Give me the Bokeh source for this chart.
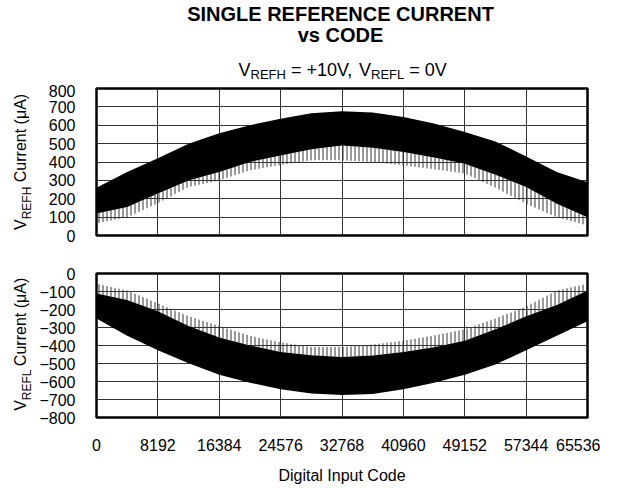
import math
from bokeh.plotting import figure
from bokeh.layouts import column, row
from bokeh.models import Range1d, FixedTicker
from bokeh.core.properties import value
from bokeh.embed import file_html
from bokeh.resources import INLINE

# ---- data ----
codes = [0, 4096, 8192, 12288, 16384, 20480, 24576, 28672, 32768,
         36864, 40960, 45056, 49152, 53248, 57344, 61440, 65536]

refh_peak = [260, 345, 420, 500, 556, 600, 636, 665, 676, 670, 645, 609, 563, 512, 430, 345, 290]
refh_band_low = [120, 155, 228, 300, 345, 400, 436, 470, 490, 478, 455, 425, 391, 330, 264, 173, 100]
refh_spike_low = [65, 100, 175, 264, 300, 355, 383, 410, 409, 400, 382, 360, 337, 260, 173, 100, 55]

refl_spike_high = [-57, -94, -165, -238, -292, -346, -382, -409, -409, -395, -373, -345, -310, -250, -184, -94, -57]
refl_band_high = [-111, -147, -210, -292, -355, -400, -436, -454, -464, -455, -436, -410, -373, -310, -238, -175, -94]
refl_peak = [-250, -346, -427, -499, -562, -607, -643, -666, -675, -670, -643, -607, -562, -505, -427, -346, -265]

x_ticks = [0, 8192, 16384, 24576, 32768, 40960, 49152, 57344, 65536]
x_tick_labels = ["0", "8192", "16384", "24576", "32768", "40960", "49152", "57344", "65536"]
top_ticks = [0, 100, 200, 300, 400, 500, 600, 700, 800]
top_tick_labels = ["0", "100", "200", "300", "400", "500", "600", "700", "800"]
bot_ticks = [0, -100, -200, -300, -400, -500, -600, -700, -800]
bot_tick_labels = ["0", "\u2212100", "\u2212200", "\u2212300", "\u2212400", "\u2212500", "\u2212600", "\u2212700", "\u2212800"]

title_line1 = "SINGLE REFERENCE CURRENT"
title_line2 = "vs CODE"
x_title = "Digital Input Code"

FONT = "Liberation Sans"


def blank(width, height, x0, x1, ytop, ybot):
    f = figure(width=width, height=height, output_backend="svg", toolbar_location=None,
               x_axis_location=None, y_axis_location=None,
               x_range=Range1d(x0, x1), y_range=Range1d(-ybot, -ytop),
               min_border=0, min_border_left=0, min_border_right=0,
               min_border_top=0, min_border_bottom=0)
    f.grid.visible = False
    f.outline_line_color = None
    f.background_fill_color = "white"
    f.border_fill_color = "white"
    return f


def put_text(f, x, y, txt, size, style="normal", align="left", baseline="alphabetic", angle=0.0):
    f.text(x=[x], y=[-y], text=[txt], angle=angle, text_align=align, text_baseline=baseline,
           text_font=value(FONT), text_font_size=value(f"{size}px"),
           text_font_style=style, text_color="black")


def style(p, yticks, ylabels):
    p.outline_line_color = "black"
    p.outline_line_width = 2.5
    p.background_fill_color = "white"
    p.border_fill_color = "white"
    for g in p.xgrid:
        g.ticker = FixedTicker(ticks=x_ticks)
        g.grid_line_color = "#333333"
        g.grid_line_width = 1
    for g in p.ygrid:
        g.ticker = FixedTicker(ticks=yticks)
        g.grid_line_color = "#333333"
        g.grid_line_width = 1
    ya = p.yaxis[0]
    ya.ticker = FixedTicker(ticks=yticks)
    ya.major_label_overrides = {t: l for t, l in zip(yticks, ylabels)}
    ya.axis_line_color = None
    ya.major_tick_line_color = None
    ya.minor_tick_line_color = None
    ya.major_label_standoff = 15
    ya.major_label_text_font = FONT
    ya.major_label_text_font_size = "16px"
    ya.major_label_text_color = "black"


# ---- header (titles): screen px coordinates ----
header = blank(600, 84, 0, 600, 0, 84)
put_text(header, 340, 13.5, title_line1, 20, style="bold", align="center", baseline="middle")
put_text(header, 340, 34, title_line2, 20, style="bold", align="center", baseline="middle")
for txt, sx, fs, by in [("V", 238, 18, 69), ("REFH", 250, 13, 74), ("= +10V,", 290.4, 18, 69),
                        ("V", 358.5, 18, 69), ("REFL", 370.5, 13, 74), ("= 0V", 408.7, 18, 69)]:
    put_text(header, sx, by, txt, fs)

# ---- top plot row (frame y 88..235, aligned across the row) ----
left1 = blank(36, 166, 0, 36, 88, 235)
for txt, fs, bx, sy in [("V", 16, 20, 229.5), ("REFH", 12, 26, 218.8), ("Current (\u03bcA)", 16, 20, 181.7)]:
    put_text(left1, bx, sy, txt, fs, angle=math.pi / 2)

p1 = figure(width=564, height=166, output_backend="svg", toolbar_location=None,
            x_range=Range1d(0, 65536), y_range=Range1d(0, 800),
            min_border_left=60, min_border_right=13, min_border_top=4, min_border_bottom=15)
style(p1, top_ticks, top_tick_labels)
p1.xaxis.visible = False

p1.varea(x=codes, y1=refh_spike_low, y2=refh_band_low, fill_color=None, fill_alpha=0,
         hatch_pattern="vertical_line", hatch_scale=4, hatch_weight=1, hatch_color="#333333")
p1.varea(x=codes, y1=refh_band_low, y2=refh_peak, fill_color="black")

# ---- bottom plot row (frame y 273..421, aligned across the row) ----
left2 = blank(36, 236, 0, 36, 273, 421)
for txt, fs, bx, sy in [("V", 16, 20, 414), ("REFL", 12, 26, 403.3), ("Current (\u03bcA)", 16, 20, 368.2)]:
    put_text(left2, bx, sy, txt, fs, angle=math.pi / 2)

p2 = figure(width=564, height=236, output_backend="svg", toolbar_location=None,
            x_range=Range1d(0, 65536), y_range=Range1d(-800, 0),
            min_border_left=60, min_border_right=13, min_border_top=23, min_border_bottom=65)
style(p2, bot_ticks, bot_tick_labels)
xa = p2.xaxis[0]
xa.ticker = FixedTicker(ticks=x_ticks)
xa.major_label_overrides = {t: l for t, l in zip(x_ticks, x_tick_labels)}
xa.axis_line_color = None
xa.major_tick_line_color = None
xa.minor_tick_line_color = None
xa.major_label_standoff = 15
xa.major_label_text_font = FONT
xa.major_label_text_font_size = "16px"
xa.major_label_text_color = "black"
xa.axis_label = x_title
xa.axis_label_text_font = FONT
xa.axis_label_text_font_size = "16px"
xa.axis_label_text_font_style = "normal"
xa.axis_label_text_color = "black"
xa.axis_label_standoff = 13

p2.varea(x=codes, y1=refl_band_high, y2=refl_spike_high, fill_color=None, fill_alpha=0,
         hatch_pattern="vertical_line", hatch_scale=4, hatch_weight=1, hatch_color="#333333")
p2.varea(x=codes, y1=refl_peak, y2=refl_band_high, fill_color="black")

layout = column(header, row(left1, p1), row(left2, p2))
open("out.html", "w").write(file_html(layout, INLINE))
